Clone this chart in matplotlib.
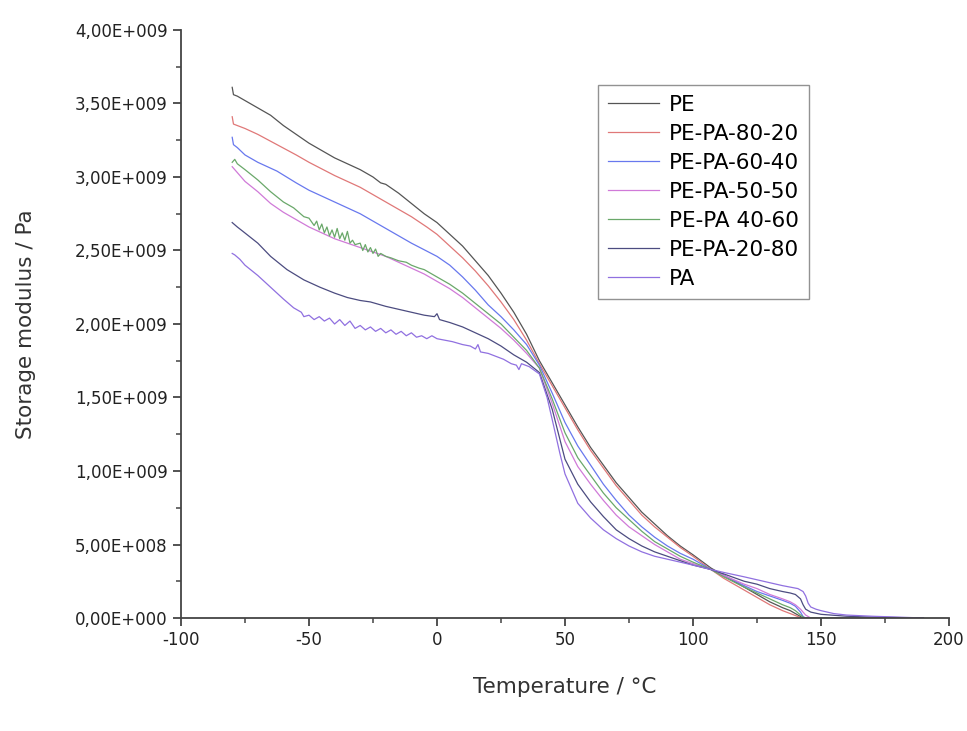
import numpy as np
import matplotlib
matplotlib.use('Agg')
import matplotlib.pyplot as plt
from matplotlib.ticker import FuncFormatter, MultipleLocator

plt.rcParams['axes.unicode_minus'] = False

# Storage modulus (x 1e9 Pa), as (temperature in °C, value) pairs
pe = [(-80, 3.61), (-79.5, 3.56), (-78, 3.55), (-75, 3.52), (-70, 3.47), (-65, 3.42), (-60, 3.35),
      (-55, 3.29), (-50, 3.23), (-45, 3.18), (-40, 3.13), (-35, 3.09), (-30, 3.05), (-25, 3.00),
      (-22, 2.96), (-20, 2.95), (-15, 2.89), (-10, 2.82), (-5, 2.75), (0, 2.69), (5, 2.61),
      (10, 2.53), (15, 2.43), (20, 2.33), (25, 2.21), (30, 2.08), (35, 1.93), (40, 1.75),
      (45, 1.60), (50, 1.45), (55, 1.30), (60, 1.16), (65, 1.04), (70, 0.92), (75, 0.82),
      (80, 0.72), (85, 0.64), (90, 0.56), (95, 0.49), (100, 0.43), (107, 0.34), (112, 0.29),
      (120, 0.21), (125, 0.16), (130, 0.11), (135, 0.07), (138, 0.05), (140, 0.03), (142, 0.01),
      (143, 0.0), (150, 0.0), (190, 0.0)]

pe_pa_80_20 = [(-80, 3.41), (-79.5, 3.36), (-78, 3.35), (-75, 3.33), (-70, 3.29), (-62.5, 3.22),
               (-55, 3.15), (-50, 3.10), (-40, 3.01), (-30, 2.93), (-20, 2.83), (-17, 2.80),
               (-10, 2.73), (-4, 2.66), (0, 2.61), (5, 2.53), (10, 2.45), (15, 2.36), (20, 2.26),
               (25, 2.15), (30, 2.03), (35, 1.89), (40, 1.73), (45, 1.58), (50, 1.43), (55, 1.28),
               (60, 1.14), (65, 1.02), (70, 0.90), (75, 0.80), (80, 0.70), (85, 0.62), (90, 0.55),
               (95, 0.48), (100, 0.42), (107, 0.33), (112, 0.27), (120, 0.19), (125, 0.14),
               (130, 0.09), (135, 0.05), (138, 0.03), (141, 0.01), (142, 0.0), (150, 0.0), (190, 0.0)]

pe_pa_60_40 = [(-80, 3.27), (-79.5, 3.22), (-78, 3.20), (-75, 3.15), (-70, 3.10), (-62.5, 3.04),
               (-55, 2.96), (-50, 2.91), (-40, 2.83), (-30, 2.75), (-20, 2.65), (-10, 2.55),
               (0, 2.46), (5, 2.40), (10, 2.32), (15, 2.23), (20, 2.13), (25, 2.05), (30, 1.96),
               (35, 1.86), (40, 1.72), (45, 1.53), (50, 1.33), (55, 1.17), (60, 1.04), (65, 0.91),
               (70, 0.80), (75, 0.70), (80, 0.62), (85, 0.55), (90, 0.49), (95, 0.44), (100, 0.40),
               (107, 0.33), (112, 0.29), (120, 0.22), (125, 0.18), (130, 0.15), (135, 0.12),
               (138, 0.10), (140, 0.08), (142, 0.04), (143, 0.01), (144, 0.0), (190, 0.0)]

pe_pa_50_50 = [(-80, 3.07), (-78, 3.03), (-75, 2.97), (-70, 2.90), (-65, 2.82), (-60, 2.76),
               (-55, 2.71), (-50, 2.66), (-45, 2.62), (-40, 2.58), (-35, 2.55), (-30, 2.52),
               (-25, 2.49), (-20, 2.46), (-15, 2.42), (-10, 2.38), (-5, 2.34), (0, 2.29), (5, 2.24),
               (10, 2.18), (15, 2.11), (20, 2.04), (25, 1.97), (30, 1.89), (35, 1.80), (40, 1.70),
               (45, 1.46), (50, 1.20), (55, 1.03), (60, 0.91), (65, 0.80), (70, 0.70), (75, 0.62),
               (80, 0.56), (85, 0.50), (90, 0.45), (95, 0.40), (100, 0.37), (107, 0.33), (112, 0.29),
               (120, 0.23), (125, 0.20), (130, 0.16), (135, 0.13), (138, 0.11), (140, 0.09),
               (142, 0.06), (144, 0.02), (146, 0.0), (190, 0.0)]

pe_pa_40_60 = [(-80, 3.10), (-79, 3.12), (-78, 3.09), (-75, 3.05), (-70, 2.98), (-65, 2.90),
               (-60, 2.83), (-56, 2.79), (-52, 2.73), (-50, 2.72), (-48, 2.67), (-47, 2.70),
               (-46, 2.64), (-45, 2.68), (-44, 2.62), (-43, 2.66), (-42, 2.60), (-41, 2.64),
               (-40, 2.59), (-39, 2.65), (-38, 2.58), (-37, 2.62), (-36, 2.57), (-35, 2.63),
               (-34, 2.55), (-33, 2.57), (-32, 2.54), (-30, 2.55), (-29, 2.50), (-28, 2.54),
               (-27, 2.49), (-26, 2.52), (-25, 2.48), (-24, 2.51), (-23, 2.46), (-22, 2.48),
               (-20, 2.46), (-18, 2.45), (-15, 2.43), (-12, 2.42), (-10, 2.40), (-7, 2.38),
               (-5, 2.37), (0, 2.32), (5, 2.27), (10, 2.21), (15, 2.14), (20, 2.07), (25, 2.00),
               (30, 1.91), (35, 1.82), (40, 1.70), (45, 1.49), (50, 1.26), (55, 1.09), (60, 0.97),
               (65, 0.85), (70, 0.75), (75, 0.67), (80, 0.59), (85, 0.52), (90, 0.47), (95, 0.42),
               (100, 0.38), (107, 0.33), (112, 0.28), (120, 0.21), (125, 0.17), (130, 0.13),
               (135, 0.09), (138, 0.07), (140, 0.05), (142, 0.02), (143.5, 0.0), (190, 0.0)]

pe_pa_20_80 = [(-80, 2.69), (-78, 2.66), (-75.8, 2.63), (-70, 2.55), (-65, 2.46), (-58.6, 2.37),
               (-52, 2.30), (-45.7, 2.25), (-40, 2.21), (-35, 2.18), (-30, 2.16), (-26, 2.15),
               (-20, 2.12), (-15, 2.10), (-10, 2.08), (-5, 2.06), (-1, 2.05), (0, 2.07), (1, 2.03),
               (5, 2.01), (10, 1.98), (15, 1.94), (20, 1.90), (25, 1.85), (30, 1.79), (35, 1.74),
               (40, 1.67), (45, 1.42), (50, 1.08), (55, 0.91), (60, 0.79), (65, 0.69), (70, 0.60),
               (75, 0.54), (80, 0.49), (85, 0.45), (90, 0.42), (95, 0.39), (100, 0.36), (107, 0.33),
               (112, 0.30), (120, 0.25), (125, 0.23), (130, 0.20), (135, 0.18), (138, 0.17),
               (140, 0.16), (142, 0.13), (143, 0.09), (144, 0.06), (146, 0.04), (150, 0.025),
               (160, 0.012), (170, 0.006), (180, 0.003), (190, 0.0)]

pa = [(-80, 2.48), (-79, 2.47), (-77, 2.44), (-75, 2.40), (-70, 2.33), (-65, 2.25), (-60, 2.17),
      (-56, 2.11), (-53, 2.08), (-52, 2.05), (-50, 2.06), (-48, 2.03), (-46, 2.05), (-44, 2.02),
      (-42, 2.04), (-40, 2.00), (-38, 2.03), (-36, 1.99), (-34, 2.02), (-32, 1.97), (-30, 1.99),
      (-28, 1.96), (-26, 1.98), (-24, 1.95), (-22, 1.97), (-20, 1.94), (-18, 1.96), (-16, 1.93),
      (-14, 1.95), (-12, 1.92), (-10, 1.94), (-8, 1.91), (-6, 1.92), (-4, 1.90), (-2, 1.92),
      (0, 1.90), (3, 1.89), (6, 1.88), (10, 1.86), (13, 1.85), (15, 1.83), (16, 1.86), (17, 1.81),
      (20, 1.80), (23, 1.78), (26, 1.76), (29, 1.73), (31, 1.72), (32, 1.69), (33, 1.73),
      (36, 1.71), (40, 1.66), (43, 1.50), (45, 1.35), (48, 1.12), (50, 0.98), (55, 0.78),
      (60, 0.68), (65, 0.60), (70, 0.54), (75, 0.49), (80, 0.45), (85, 0.42), (90, 0.40),
      (95, 0.38), (100, 0.36), (107, 0.33), (112, 0.31), (120, 0.28), (125, 0.26), (130, 0.24),
      (135, 0.22), (138, 0.21), (141, 0.20), (143, 0.18), (144, 0.15), (145, 0.10), (146, 0.075),
      (148, 0.06), (150, 0.05), (155, 0.03), (160, 0.02), (170, 0.012), (180, 0.006), (190, 0.0)]

series = [
    ("PE", pe, "#555555"),
    ("PE-PA-80-20", pe_pa_80_20, "#e07878"),
    ("PE-PA-60-40", pe_pa_60_40, "#6878ee"),
    ("PE-PA-50-50", pe_pa_50_50, "#d07ad8"),
    ("PE-PA 40-60", pe_pa_40_60, "#6aa86a"),
    ("PE-PA-20-80", pe_pa_20_80, "#4c4c80"),
    ("PA", pa, "#9070e0"),
]


def sci_comma(v, pos):
    # Origin-style labels: 3,50E+009
    if v == 0:
        return "0,00E+000"
    exp = int(np.floor(np.log10(abs(v))))
    mant = v / 10 ** exp
    return ("%.2f" % mant).replace(".", ",") + "E+%03d" % exp


fig = plt.figure(figsize=(9.67, 7.31), dpi=100)
ax = fig.add_axes([181 / 967, 1 - 618 / 731, (949 - 181) / 967, (618 - 30) / 731])

for name, pts, col in series:
    arr = np.array(pts)
    ax.plot(arr[:, 0], arr[:, 1] * 1e9, color=col, lw=0.9, label=name)

ax.set_xlim(-100, 200)
ax.set_ylim(0, 4e9)
ax.xaxis.set_major_locator(MultipleLocator(50))
ax.xaxis.set_minor_locator(MultipleLocator(25))
ax.yaxis.set_major_locator(MultipleLocator(5e8))
ax.yaxis.set_minor_locator(MultipleLocator(2.5e8))
ax.yaxis.set_major_formatter(FuncFormatter(sci_comma))

for s in ["top", "right"]:
    ax.spines[s].set_visible(False)
for s in ["left", "bottom"]:
    ax.spines[s].set_color("#444444")
    ax.spines[s].set_linewidth(1.3)

ax.tick_params(which="major", direction="out", length=6, width=1.3, color="#444444",
               labelsize=12, labelcolor="#222222")
ax.tick_params(which="minor", direction="out", length=3.5, width=1.1, color="#444444")

ax.set_xlabel("Temperature / °C", fontsize=15.5, color="#333333", labelpad=20)
ax.set_ylabel("Storage modulus / Pa", fontsize=15.5, color="#333333", labelpad=28)

leg = ax.legend(loc="upper left", bbox_to_anchor=(598 / 967, 1 - 85 / 731),
                bbox_transform=fig.transFigure, borderaxespad=0, fontsize=15.5,
                frameon=True, fancybox=False, edgecolor="#777777", handlelength=2.4,
                handletextpad=0.45, labelspacing=0.42, borderpad=0.45)
leg.get_frame().set_linewidth(1.0)

fig.savefig("out.png", dpi=100)
